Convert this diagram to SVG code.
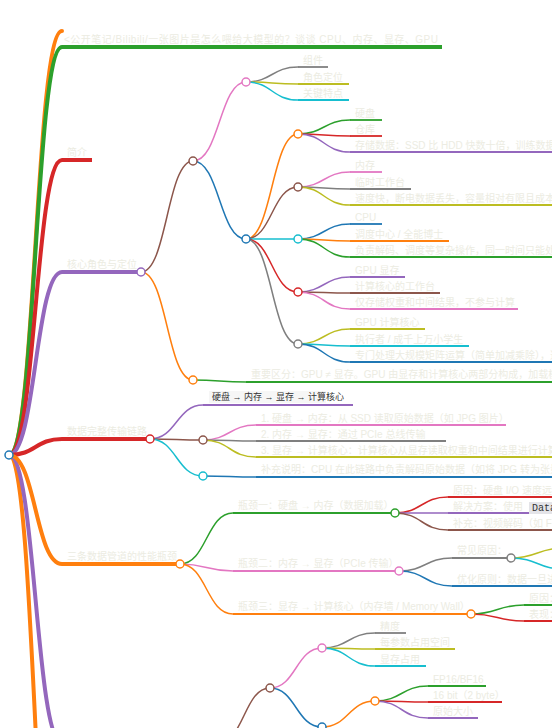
<svg xmlns="http://www.w3.org/2000/svg" width="552" height="728" viewBox="0 0 552 728">
<style>
.lk{fill:none;stroke-width:1.5;stroke-linecap:round}
.l1{stroke-width:4}
.ul{stroke-width:1.8;fill:none}
.ul1{stroke-width:4;fill:none}
.nd{fill:#fff;stroke-width:1.5}
.t{font-family:"Liberation Sans","Noto Sans CJK SC",sans-serif;font-size:10px;fill:#ececE2}
.code{font-family:"Liberation Sans","Noto Sans CJK SC",sans-serif;font-size:9px;fill:#333}
.mono{font-family:"Liberation Mono",monospace;font-size:10px;fill:#333}
.blue{stroke:#1f77b4}.orange{stroke:#ff7f0e}.green{stroke:#2ca02c}.red{stroke:#d62728}.purple{stroke:#9467bd}
.brown{stroke:#8c564b}.pink{stroke:#e377c2}.gray{stroke:#7f7f7f}.olive{stroke:#bcbd22}.cyan{stroke:#17becf}
</style>
<rect width="552" height="728" fill="#fff"/>
<g id="connectors">
<path class="lk l1 orange" d="M9,455 C35.5,455 35.5,1000 62,1000"/>
<path class="lk l1 purple" d="M9,455 C35.5,455 35.5,743 62,743"/>
<path class="lk l1 orange" d="M9,455 C35.5,455 35.5,31 62,31"/>
<path class="lk l1 green" d="M9,455 C35.5,455 35.5,47 62,47"/>
<path class="lk l1 red" d="M9,455 C35.5,455 35.5,160 62,160"/>
<path class="lk l1 purple" d="M9,455 C35.5,455 35.5,272 62,272"/>
<path class="lk l1 red" d="M9,455 C35.5,455 35.5,439 62,439"/>
<path class="lk l1 orange" d="M9,455 C35.5,455 35.5,564 62,564"/>
<path class="lk brown" d="M141,272 C167,272 167,161 193,161"/>
<path class="lk orange" d="M141,272 C167,272 167,380 193,380"/>
<path class="lk pink" d="M193,161 C219.5,161 219.5,82 246,82"/>
<path class="lk blue" d="M193,161 C219.5,161 219.5,239 246,239"/>
<path class="lk gray" d="M246,82 C272,82 272,67 298,67"/>
<path class="lk olive" d="M246,82 C272,82 272,84 298,84"/>
<path class="lk cyan" d="M246,82 C272,82 272,100 298,100"/>
<path class="lk orange" d="M246,239 C272,239 272,134 298,134"/>
<path class="lk brown" d="M246,239 C272,239 272,187 298,187"/>
<path class="lk cyan" d="M246,239 C272,239 272,239 298,239"/>
<path class="lk red" d="M246,239 C272,239 272,292 298,292"/>
<path class="lk gray" d="M246,239 C272,239 272,344 298,344"/>
<path class="lk green" d="M298,134 C324,134 324,120 350,120"/>
<path class="lk red" d="M298,134 C324,134 324,136 350,136"/>
<path class="lk purple" d="M298,134 C324,134 324,152 350,152"/>
<path class="lk pink" d="M298,187 C324,187 324,172 350,172"/>
<path class="lk gray" d="M298,187 C324,187 324,189 350,189"/>
<path class="lk olive" d="M298,187 C324,187 324,205 350,205"/>
<path class="lk blue" d="M298,239 C324,239 324,224 350,224"/>
<path class="lk orange" d="M298,239 C324,239 324,241 350,241"/>
<path class="lk green" d="M298,239 C324,239 324,257 350,257"/>
<path class="lk purple" d="M298,292 C324,292 324,277 350,277"/>
<path class="lk brown" d="M298,292 C324,292 324,293 350,293"/>
<path class="lk pink" d="M298,292 C324,292 324,309 350,309"/>
<path class="lk olive" d="M298,344 C324,344 324,329 350,329"/>
<path class="lk cyan" d="M298,344 C324,344 324,346 350,346"/>
<path class="lk blue" d="M298,344 C324,344 324,362 350,362"/>
<path class="lk green" d="M193,380 C219.5,380 219.5,382 246,382"/>
<path class="lk purple" d="M150,439 C176.5,439 176.5,405 203,405"/>
<path class="lk brown" d="M150,439 C176.5,439 176.5,440 203,440"/>
<path class="lk cyan" d="M150,439 C176.5,439 176.5,476 203,476"/>
<path class="lk pink" d="M203,440 C229.5,440 229.5,425 256,425"/>
<path class="lk gray" d="M203,440 C229.5,440 229.5,441 256,441"/>
<path class="lk olive" d="M203,440 C229.5,440 229.5,457 256,457"/>
<path class="lk blue" d="M203,476 C229.5,476 229.5,477 256,477"/>
<path class="lk green" d="M180,564 C206.5,564 206.5,513 233,513"/>
<path class="lk pink" d="M180,564 C206.5,564 206.5,571 233,571"/>
<path class="lk orange" d="M180,564 C206.5,564 206.5,614 233,614"/>
<path class="lk red" d="M395,513 C421.5,513 421.5,497 448,497"/>
<path class="lk purple" d="M395,513 C421.5,513 421.5,513 448,513"/>
<path class="lk brown" d="M395,513 C421.5,513 421.5,530 448,530"/>
<path class="lk gray" d="M399,571 C425.5,571 425.5,558 452,558"/>
<path class="lk blue" d="M399,571 C425.5,571 425.5,586 452,586"/>
<path class="lk olive" d="M511,558 C537.5,558 537.5,548 564,548"/>
<path class="lk cyan" d="M511,558 C537.5,558 537.5,569 564,569"/>
<path class="lk green" d="M471,614 C497.5,614 497.5,605 524,605"/>
<path class="lk red" d="M471,614 C497.5,614 497.5,621 524,621"/>
<path class="lk brown" d="M218,743 C244,743 244,688 270,688"/>
<path class="lk pink" d="M270,688 C296,688 296,648 322,648"/>
<path class="lk blue" d="M270,688 C296,688 296,727 322,727"/>
<path class="lk gray" d="M322,648 C348.5,648 348.5,633 375,633"/>
<path class="lk olive" d="M322,648 C348.5,648 348.5,649 375,649"/>
<path class="lk cyan" d="M322,648 C348.5,648 348.5,666 375,666"/>
<path class="lk orange" d="M322,727 C348.5,727 348.5,701 375,701"/>
<path class="lk green" d="M375,701 C401.5,701 401.5,686 428,686"/>
<path class="lk red" d="M375,701 C401.5,701 401.5,702 428,702"/>
<path class="lk purple" d="M375,701 C401.5,701 401.5,718 428,718"/>
</g>
<g id="n-title"><path class="ul1 green" d="M62,47 H442"/><text class="t" x="64" y="43" textLength="374" lengthAdjust="spacing">&lt;公开笔记/Bilibili/一张图片是怎么喂给大模型的？谈谈 CPU、内存、显存、GPU</text></g>
<g id="n-intro"><path class="ul1 red" d="M62,160 H92"/><text class="t" x="67" y="156">简介</text></g>
<g id="n-role"><path class="ul1 purple" d="M62,272 H141"/><text class="t" x="67" y="268">核心角色与定位</text></g>
<g id="n-chain"><path class="ul1 red" d="M62,439 H150"/><text class="t" x="67" y="435">数据完整传输链路</text></g>
<g id="n-bottle"><path class="ul1 orange" d="M62,564 H180"/><text class="t" x="67" y="560">三条数据管道的性能瓶颈</text></g>
<g id="n-table"><circle class="nd brown" cx="193" cy="161" r="4"/></g>
<g id="n-head"><circle class="nd pink" cx="246" cy="82" r="4"/></g>
<g id="n-h1"><path class="ul gray" d="M298,67 H328"/><text class="t" x="303" y="64">组件</text></g>
<g id="n-h2"><path class="ul olive" d="M298,84 H349"/><text class="t" x="303" y="81">角色定位</text></g>
<g id="n-h3"><path class="ul cyan" d="M298,100 H349"/><text class="t" x="303" y="97">关键特点</text></g>
<g id="n-rows"><circle class="nd blue" cx="246" cy="239" r="4"/></g>
<g id="n-r1"><circle class="nd orange" cx="298" cy="134" r="4"/></g>
<g id="n-r1a"><path class="ul green" d="M350,120 H382"/><text class="t" x="355" y="117">硬盘</text></g>
<g id="n-r1b"><path class="ul red" d="M350,136 H382"/><text class="t" x="355" y="133">仓库</text></g>
<g id="n-r1c"><path class="ul purple" d="M350,152 H560"/><text class="t" x="355" y="149">存储数据：SSD 比 HDD 快数十倍，训练数据</text></g>
<g id="n-r2"><circle class="nd brown" cx="298" cy="187" r="4"/></g>
<g id="n-r2a"><path class="ul pink" d="M350,172 H382"/><text class="t" x="355" y="169">内存</text></g>
<g id="n-r2b"><path class="ul gray" d="M350,189 H411"/><text class="t" x="355" y="186">临时工作台</text></g>
<g id="n-r2c"><path class="ul olive" d="M350,205 H560"/><text class="t" x="355" y="202">速度快，断电数据丢失，容量相对有限且成本高</text></g>
<g id="n-r3"><circle class="nd cyan" cx="298" cy="239" r="4"/></g>
<g id="n-r3a"><path class="ul blue" d="M350,224 H382"/><text class="t" x="355" y="221">CPU</text></g>
<g id="n-r3b"><path class="ul orange" d="M350,241 H449"/><text class="t" x="355" y="238">调度中心 / 全能博士</text></g>
<g id="n-r3c"><path class="ul green" d="M350,257 H560"/><text class="t" x="355" y="254">负责解码、调度等复杂操作，同一时间只能处理少量任务</text></g>
<g id="n-r4"><circle class="nd red" cx="298" cy="292" r="4"/></g>
<g id="n-r4a"><path class="ul purple" d="M350,277 H405"/><text class="t" x="355" y="274">GPU 显存</text></g>
<g id="n-r4b"><path class="ul brown" d="M350,293 H440"/><text class="t" x="355" y="290">计算核心的工作台</text></g>
<g id="n-r4c"><path class="ul pink" d="M350,309 H518"/><text class="t" x="355" y="306">仅存储权重和中间结果，不参与计算</text></g>
<g id="n-r5"><circle class="nd gray" cx="298" cy="344" r="4"/></g>
<g id="n-r5a"><path class="ul olive" d="M350,329 H425"/><text class="t" x="355" y="326">GPU 计算核心</text></g>
<g id="n-r5b"><path class="ul cyan" d="M350,346 H469"/><text class="t" x="355" y="343">执行者 / 成千上万小学生</text></g>
<g id="n-r5c"><path class="ul blue" d="M350,362 H560"/><text class="t" x="355" y="359">专门处理大规模矩阵运算（简单加减乘除），速度极快</text></g>
<g id="n-note"><circle class="nd orange" cx="193" cy="380" r="4"/></g>
<g id="n-note1"><path class="ul green" d="M246,382 H560"/><text class="t" x="251" y="378">重要区分：GPU ≠ 显存。GPU 由显存和计算核心两部分构成，加载模型时</text></g>
<g id="n-flow"><path class="ul purple" d="M203,405 H353"/><rect x="209" y="391" width="117" height="12" fill="#f6f6f6"/><text class="code" x="212" y="400">硬盘 → 内存 → 显存 → 计算核心</text></g>
<g id="n-steps"><circle class="nd brown" cx="203" cy="440" r="4"/></g>
<g id="n-s1"><path class="ul pink" d="M256,425 H506"/><text class="t" x="261" y="422">1. 硬盘 → 内存：从 SSD 读取原始数据（如 JPG 图片）</text></g>
<g id="n-s2"><path class="ul gray" d="M256,441 H446"/><text class="t" x="261" y="438">2. 内存 → 显存：通过 PCIe 总线传输</text></g>
<g id="n-s3"><path class="ul olive" d="M256,457 H560"/><text class="t" x="261" y="454">3. 显存 → 计算核心：计算核心从显存读取权重和中间结果进行计算</text></g>
<g id="n-supp"><circle class="nd cyan" cx="203" cy="476" r="4"/></g>
<g id="n-supp1"><path class="ul blue" d="M256,477 H560"/><text class="t" x="261" y="473">补充说明：CPU 在此链路中负责解码原始数据（如将 JPG 转为张量）</text></g>
<g id="n-b1"><path class="ul green" d="M233,513 H395"/><text class="t" x="238" y="509">瓶颈一：硬盘 → 内存（数据加载）</text></g>
<g id="n-b1a"><path class="ul red" d="M448,497 H560"/><text class="t" x="453" y="494">原因：硬盘 I/O 速度远低于内存</text></g>
<g id="n-b1b"><path class="ul purple" d="M448,513 H560"/><text class="t" x="453" y="510">解决方案：使用</text><rect x="529" y="502" width="40" height="12" fill="#e4e4e8"/><text class="mono" x="532" y="511">DataLoader</text></g>
<g id="n-b1c"><path class="ul brown" d="M448,530 H560"/><text class="t" x="453" y="527">补充：视频解码（如 FFmpeg）</text></g>
<g id="n-b2"><path class="ul pink" d="M233,571 H399"/><text class="t" x="238" y="567">瓶颈二：内存 → 显存（PCIe 传输）</text></g>
<g id="n-b2a"><path class="ul gray" d="M452,558 H511"/><text class="t" x="457" y="554">常见原因：</text></g>
<g id="n-b2b"><path class="ul blue" d="M452,586 H560"/><text class="t" x="457" y="583">优化原则：数据一旦进入显存</text></g>
<g id="n-b3"><path class="ul orange" d="M233,614 H471"/><text class="t" x="238" y="610">瓶颈三：显存 → 计算核心（内存墙 / Memory Wall）</text></g>
<g id="n-b3a"><path class="ul green" d="M524,605 H560"/><text class="t" x="529" y="602">原因：</text></g>
<g id="n-b3b"><path class="ul red" d="M524,621 H560"/><text class="t" x="529" y="618">表现：</text></g>
<g id="n-prec"><circle class="nd brown" cx="270" cy="688" r="4"/></g>
<g id="n-ph"><circle class="nd pink" cx="322" cy="648" r="4"/></g>
<g id="n-ph1"><path class="ul gray" d="M375,633 H406"/><text class="t" x="380" y="630">精度</text></g>
<g id="n-ph2"><path class="ul olive" d="M375,649 H455"/><text class="t" x="380" y="646">每参数占用空间</text></g>
<g id="n-ph3"><path class="ul cyan" d="M375,666 H426"/><text class="t" x="380" y="663">显存占用</text></g>
<g id="n-pr"><circle class="nd blue" cx="322" cy="727" r="4"/></g>
<g id="n-pr1"><circle class="nd orange" cx="375" cy="701" r="4"/></g>
<g id="n-pr1a"><path class="ul green" d="M428,686 H486"/><text class="t" x="433" y="683">FP16/BF16</text></g>
<g id="n-pr1b"><path class="ul red" d="M428,702 H502"/><text class="t" x="433" y="699">16 bit（2 byte）</text></g>
<g id="n-pr1c"><path class="ul purple" d="M428,718 H478"/><text class="t" x="433" y="715">原始大小</text></g>
<g id="nodes-circles">
<circle class="nd blue" cx="9" cy="455" r="4"/>
<circle class="nd purple" cx="141" cy="272" r="4"/>
<circle class="nd red" cx="150" cy="439" r="4"/>
<circle class="nd orange" cx="180" cy="564" r="4"/>
<circle class="nd green" cx="395" cy="513" r="4"/>
<circle class="nd pink" cx="399" cy="571" r="4"/>
<circle class="nd gray" cx="511" cy="558" r="4"/>
<circle class="nd orange" cx="471" cy="614" r="4"/>
</g>
</svg>
